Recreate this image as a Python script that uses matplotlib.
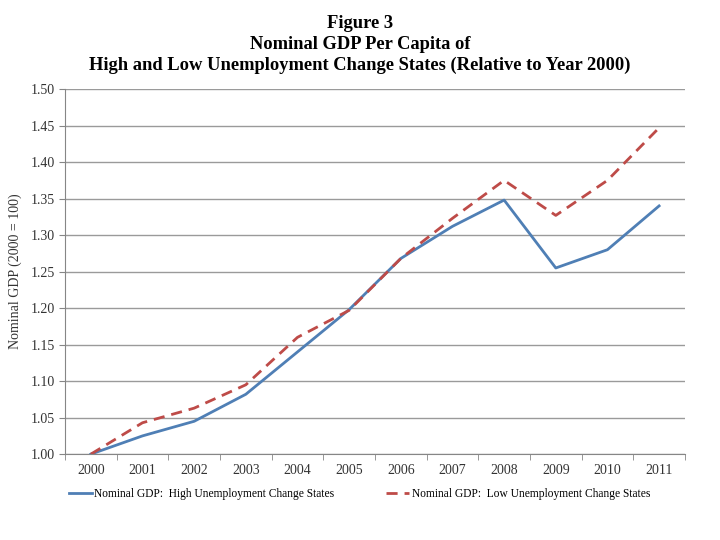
import numpy as np
import matplotlib.pyplot as plt

years = ["2000", "2001", "2002", "2003", "2004", "2005", "2006",
         "2007", "2008", "2009", "2010", "2011"]
high_unemp = [1.000, 1.025, 1.045, 1.082, 1.140, 1.198, 1.268,
              1.312, 1.348, 1.255, 1.280, 1.340]
low_unemp = [1.000, 1.043, 1.063, 1.095, 1.160, 1.197, 1.268,
             1.323, 1.375, 1.327, 1.375, 1.447]

plt.rcParams["font.family"] = ["Liberation Serif", "DejaVu Serif"]

fig = plt.figure(figsize=(7.2, 5.4), dpi=100)
ax = fig.add_axes([0.0903, 0.159, 0.861, 0.676])

x = np.arange(len(years))
ax.plot(x, high_unemp, color="#4F7FB5", lw=2.0,
        label="Nominal GDP:  High Unemployment Change States")
ax.plot(x, low_unemp, color="#BE4B48", lw=2.0, ls=(0, (4, 2.5)),
        label="Nominal GDP:  Low Unemployment Change States")

ax.set_xlim(-0.5, len(years) - 0.5)
ax.set_ylim(1.0, 1.5)
ax.set_yticks(np.arange(1.0, 1.501, 0.05))
ax.set_yticklabels([f"{v:.2f}" for v in np.arange(1.0, 1.501, 0.05)])
ax.set_xticks(x)
ax.set_xticklabels(years)
ax.set_xticks(np.arange(-0.5, len(years), 1.0), minor=True)
ax.tick_params(axis="x", which="major", length=0, pad=7, labelsize=10,
               labelcolor="#333333")
ax.tick_params(axis="x", which="minor", length=4, color="#868686")
ax.tick_params(axis="y", length=4, color="#868686", labelsize=10,
               labelcolor="#333333")
ax.grid(axis="y", color="#9a9a9a", lw=1.0)
ax.set_axisbelow(True)
for s in ["top", "right"]:
    ax.spines[s].set_visible(False)
for s in ["left", "bottom"]:
    ax.spines[s].set_color("#868686")

ax.set_ylabel("Nominal GDP (2000 = 100)", fontsize=10, labelpad=6,
              color="#333333")

fig.suptitle("Figure 3\nNominal GDP Per Capita of\n"
             "High and Low Unemployment Change States (Relative to Year 2000)",
             fontsize=13.3, fontweight="bold", y=0.972, linespacing=1.3)

ax.legend(loc="upper center", bbox_to_anchor=(0.475, -0.065), ncol=2,
          frameon=False, fontsize=8.3, handlelength=2.0, columnspacing=4.5,
          handletextpad=0.2)

fig.savefig("out.png", dpi=100)
